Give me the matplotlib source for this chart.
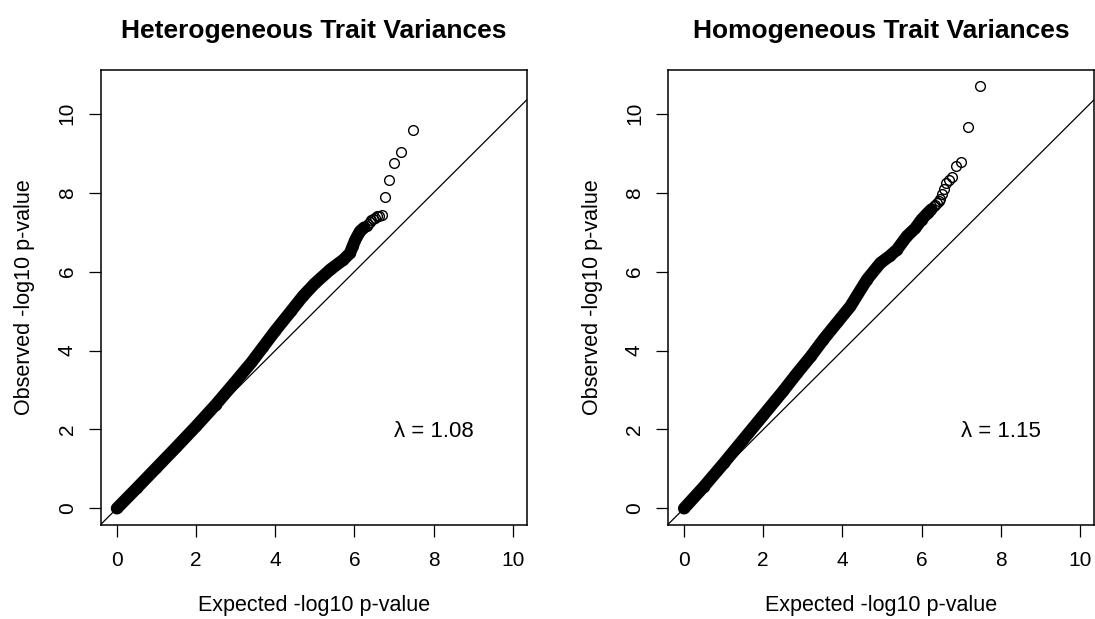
import matplotlib
matplotlib.use("Agg")
import matplotlib.pyplot as plt

plt.rcParams['font.family'] = ['Liberation Sans', 'DejaVu Sans']

# ---- data ----
titles = ["Heterogeneous Trait Variances", "Homogeneous Trait Variances"]
lambdas = ["1.08", "1.15"]

# dense part of each QQ curve (expected, observed)
het_dense_x = [0.0, 0.5, 1.0, 1.5, 2.0, 2.5, 3.0, 3.4, 3.7, 4.0, 4.4, 4.7, 5.0, 5.4,
               5.72, 5.89, 5.96, 6.02, 6.14, 6.25]
het_dense_y = [0.0, 0.51, 1.03, 1.55, 2.08, 2.63, 3.22, 3.70, 4.10, 4.50, 5.00, 5.38, 5.70, 6.06,
               6.30, 6.47, 6.65, 6.80, 7.02, 7.12]
# top-ranked points (rank 1 first)
het_tail_x = [7.47, 7.17, 6.99, 6.87, 6.77, 6.69, 6.62, 6.57, 6.52, 6.47, 6.43, 6.39, 6.35, 6.32]
het_tail_y = [9.59, 9.04, 8.75, 8.33, 7.88, 7.44, 7.42, 7.40, 7.37, 7.34, 7.30, 7.25, 7.20, 7.16]

hom_dense_x = [0.0, 0.5, 1.0, 1.5, 2.0, 2.5, 2.85, 3.2, 3.52, 3.9, 4.2, 4.62, 4.96, 5.2,
               5.38, 5.63, 5.84, 6.0, 6.15, 6.25]
hom_dense_y = [0.0, 0.55, 1.14, 1.75, 2.36, 2.97, 3.42, 3.85, 4.28, 4.75, 5.12, 5.80, 6.22, 6.40,
               6.56, 6.90, 7.10, 7.32, 7.48, 7.58]
hom_tail_x = [7.47, 7.17, 6.99, 6.87, 6.77, 6.69, 6.62, 6.57, 6.52, 6.47, 6.43, 6.39, 6.35, 6.32]
hom_tail_y = [10.71, 9.66, 8.79, 8.68, 8.41, 8.33, 8.25, 8.09, 7.97, 7.85, 7.78, 7.74, 7.70, 7.66]

ticks = [0, 2, 4, 6, 8, 10]

fig = plt.figure(figsize=(10.95, 6.19), dpi=100)
axes_pos = [[0.09224, 0.15186, 0.38904, 0.73506],
            [0.61023, 0.15186, 0.38904, 0.73506]]

panels = [(het_dense_x, het_dense_y, het_tail_x, het_tail_y),
          (hom_dense_x, hom_dense_y, hom_tail_x, hom_tail_y)]

for i, (dx, dy, tx, ty) in enumerate(panels):
    ax = fig.add_axes(axes_pos[i])
    ax.set_xlim(-0.40, 10.36)
    ax.set_ylim(-0.42, 11.11)
    # diagonal reference line
    ax.plot([-1, 12], [-1, 12], color='black', lw=0.9, zorder=1)
    # dense band of overlapping circles
    ax.plot(dx, dy, color='black', lw=8.8, solid_capstyle='round',
            solid_joinstyle='round', zorder=2)
    ax.plot(dx, dy, 'o', ms=7.0, mfc='none', mec='black', mew=1.0, zorder=3)
    # individual top points
    ax.plot(tx, ty, 'o', ms=7.0, mfc='none', mec='black', mew=1.0,
            ls='none', zorder=3)
    ax.set_xticks(ticks)
    ax.set_yticks(ticks)
    ax.tick_params(axis='both', direction='out', length=8.5, width=0.9,
                   labelsize=15, color='black')
    ax.tick_params(axis='x', pad=10)
    ax.tick_params(axis='y', pad=9)
    for lab in ax.get_yticklabels():
        lab.set_rotation(90)
        lab.set_va('center')
    for s in ax.spines.values():
        s.set_linewidth(1.1)
    ax.set_xlabel("Expected -log10 p-value", fontsize=15.5, labelpad=18)
    ax.set_ylabel("Observed -log10 p-value", fontsize=15.5, labelpad=16)
    ax.set_title(titles[i], fontsize=19, fontweight='bold', pad=23)
    ax.text(8.0, 1.95, "\u03bb = " + lambdas[i], fontsize=16, ha='center', va='center')

fig.savefig("out.png", dpi=100)
